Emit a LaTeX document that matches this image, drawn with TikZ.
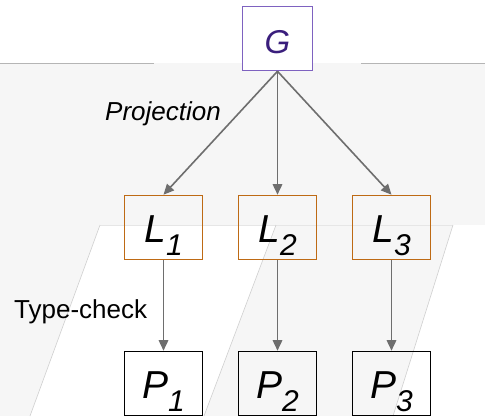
\documentclass[tikz,border=0pt]{standalone}
\usepackage{fontspec}
\setmainfont{Liberation Sans}
\usetikzlibrary{arrows.meta}
\definecolor{bggray}{HTML}{F6F6F6}
\definecolor{edgegray}{HTML}{B5B5B5}
\definecolor{faintline}{HTML}{E6E6E6}
\definecolor{slantline}{HTML}{CFCFCF}
\definecolor{gpurple}{HTML}{7E62C0}
\definecolor{gtext}{HTML}{3A1E7C}
\definecolor{lorange}{HTML}{BE6A14}
\definecolor{arrowgray}{HTML}{6E6E6E}
\newcommand\subtxt[1]{\raisebox{-13pt}{\fontsize{30}{30}\selectfont #1}}
\begin{document}
\begin{tikzpicture}[x=1pt,y=-1pt,
  basebox/.style={line width=1.6pt, inner sep=0pt, minimum width=78pt, minimum height=64pt,
    text height=29pt, text depth=0pt, font=\fontsize{39}{39}\selectfont\itshape},
  lbox/.style={basebox, draw=lorange},
  pbox/.style={basebox, draw=black},
  gbox/.style={basebox, draw=gpurple, fill=white, minimum width=70pt, text=gtext,
    text height=29.6pt, font=\fontsize{33}{33}\selectfont\itshape},
  arr/.style={draw=arrowgray, line width=1.6pt, -{Triangle[length=10.5pt,width=9.5pt]}},
  lbl/.style={inner sep=0pt, anchor=base west, font=\fontsize{26}{26}\selectfont}]
\useasboundingbox (0,0) rectangle (485,416);
% background planes
\fill[bggray] (0,63) rectangle (485,416);
\fill[white] (100,225) -- (276,225) -- (204,416) -- (30,416) -- cycle;
\fill[white] (453,225) -- (485,225) -- (485,416) -- (393,416) -- cycle;
\draw[faintline, line width=0.8pt] (100,225) -- (453,225);
\draw[slantline, line width=0.6pt] (100,225) -- (30,416);
\draw[slantline, line width=0.6pt] (276,225) -- (204,416);
\draw[slantline, line width=0.6pt] (453,225) -- (393,416);
\draw[edgegray, line width=1pt] (0,63) -- (154,63);
\draw[edgegray, line width=1pt] (361,63) -- (485,63);
% nodes
\node[gbox] (G) at (277.5,38.5) {G};
\node[lbox] (L1) at (163.5,227.5) {L\subtxt{1}};
\node[lbox] (L2) at (277.5,227.5) {L\subtxt{2}};
\node[lbox] (L3) at (391.5,227.5) {L\subtxt{3}};
\node[pbox] (P1) at (163.5,383.5) {P\subtxt{1}};
\node[pbox] (P2) at (277.5,383.5) {P\subtxt{2}};
\node[pbox] (P3) at (391.5,383.5) {P\subtxt{3}};
% labels
\node[lbl] (proj) at (105,120.7) {\itshape Projection};
\node[lbl] (tc) at (14,318) {Type-check};
% connectors
\draw[arr] (G.south) -- (L1.north);
\draw[arr] (G.south) -- (L2.north);
\draw[arr] (G.south) -- (L3.north);
\draw[arr] (L1.south) -- (P1.north);
\draw[arr] (L2.south) -- (P2.north);
\draw[arr] (L3.south) -- (P3.north);
\end{tikzpicture}
\end{document}
